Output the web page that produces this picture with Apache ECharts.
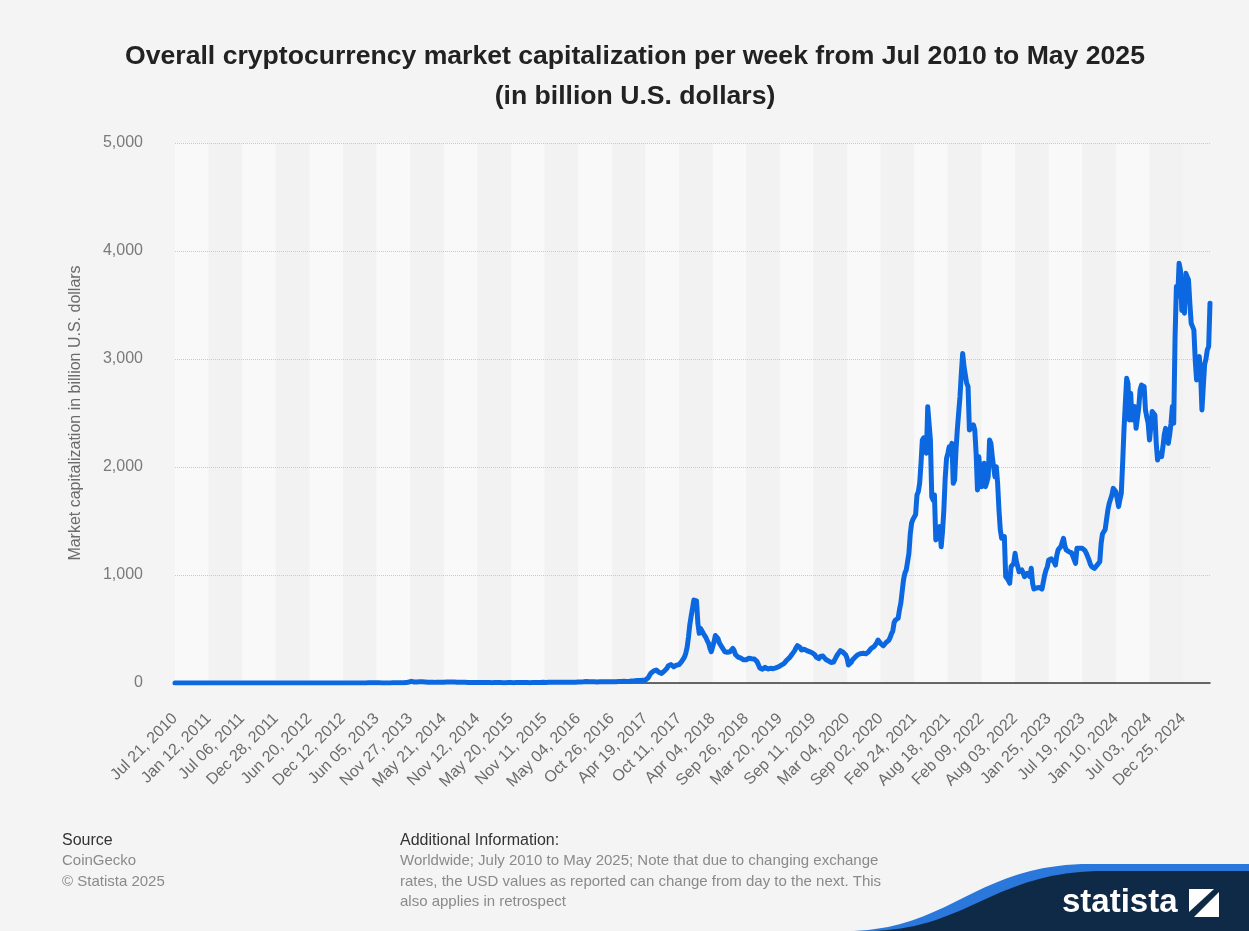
<!DOCTYPE html>
<html>
<head>
<meta charset="utf-8">
<title>Overall cryptocurrency market capitalization</title>
<script src="https://cdn.jsdelivr.net/npm/echarts@6/dist/echarts.min.js"></script>
<style>
  html, body { margin: 0; padding: 0; background: #f4f4f4; }
  #chart { width: 1249px; height: 931px; }
</style>
</head>
<body>
<div id="chart"></div>
<script>
// Labelled weeks on the time axis (every 25th weekly observation)
const tickLabels = [
  'Jul 21, 2010', 'Jan 12, 2011', 'Jul 06, 2011', 'Dec 28, 2011', 'Jun 20, 2012',
  'Dec 12, 2012', 'Jun 05, 2013', 'Nov 27, 2013', 'May 21, 2014', 'Nov 12, 2014',
  'May 20, 2015', 'Nov 11, 2015', 'May 04, 2016', 'Oct 26, 2016', 'Apr 19, 2017',
  'Oct 11, 2017', 'Apr 04, 2018', 'Sep 26, 2018', 'Mar 20, 2019', 'Sep 11, 2019',
  'Mar 04, 2020', 'Sep 02, 2020', 'Feb 24, 2021', 'Aug 18, 2021', 'Feb 09, 2022',
  'Aug 03, 2022', 'Jan 25, 2023', 'Jul 19, 2023', 'Jan 10, 2024', 'Jul 03, 2024',
  'Dec 25, 2024'
];

// Weekly market capitalization, billion U.S. dollars (one row per labelled half-year)
const marketCap = [
  // Jul 2010 – Jan 2011
  0.0003,0.0002,0.0002,0.0002,0.0002, 0.0002,0.0002,0.0002,0.0002,0.0003, 0.0003,0.0003,0.0003,0.0004,0.0005, 0.0008,0.0013,0.0010,0.0012,0.0010, 0.0010,0.0011,0.0012,0.0013,0.0015,
  // Jan 2011 – Jun 2011
  0.002,0.002,0.003,0.005,0.005, 0.005,0.004,0.005,0.005,0.004, 0.004,0.004,0.005,0.007,0.011, 0.022,0.028,0.043,0.050,0.060, 0.117,0.190,0.125,0.110,0.110,
  // Jul 2011 – Dec 2011
  0.100,0.095,0.090,0.090,0.085, 0.080,0.070,0.065,0.070,0.075, 0.060,0.055,0.045,0.035,0.025, 0.030,0.020,0.022,0.020,0.018, 0.020,0.021,0.021,0.025,0.030,
  // Dec 2011 – Jun 2012
  0.033,0.050,0.055,0.052,0.045, 0.045,0.042,0.038,0.040,0.042, 0.040,0.038,0.040,0.042,0.040, 0.040,0.041,0.042,0.042,0.043, 0.044,0.045,0.046,0.048,0.052,
  // Jun 2012 – Dec 2012
  0.060,0.063,0.066,0.072,0.080, 0.085,0.088,0.100,0.115,0.125, 0.130,0.105,0.100,0.105,0.115, 0.120,0.122,0.118,0.117,0.110, 0.108,0.112,0.120,0.125,0.130,
  // Dec 2012 – May 2013
  0.14,0.14,0.14,0.148,0.15, 0.16,0.18,0.21,0.23,0.25, 0.30,0.31,0.33,0.38,0.50, 0.65,0.95,1.00,1.50,2.50, 1.20,1.30,1.35,1.30,1.43,
  // Jun 2013 – Nov 2013
  1.40,1.25,1.20,1.05,0.95, 0.80,0.85,1.00,1.05,1.10, 1.15,1.20,1.25,1.30,1.40, 1.50,1.60,1.60,1.70,1.80, 2.30,2.60,3.50,5.00,9.00,
  // Nov 2013 – May 2014
  14.0,15.5,11.0,8.5,9.0, 10.0,11.0,11.5,11.0,10.5, 10.0,9.5,8.5,8.0,7.5, 7.8,7.6,7.2,6.5,5.8, 6.0,6.2,6.5,6.4,6.4,
  // May 2014 – Nov 2014
  7.5,8.5,9.0,8.8,8.6, 8.5,8.4,8.5,8.4,8.3, 8.0,7.8,7.0,6.8,6.8, 6.8,6.5,6.2,5.5,5.2, 5.5,5.0,5.0,5.0,4.8,
  // Nov 2014 – May 2015
  6.5,5.5,5.3,5.0,4.8, 4.6,4.5,4.2,3.0,3.6, 3.4,3.4,3.5,3.8,4.0, 4.1,3.9,3.6,3.5,3.4, 3.3,3.4,3.5,3.5,3.5,
  // May 2015 – Nov 2015
  3.5,3.4,3.3,3.4,3.5, 3.5,3.7,3.9,4.2,4.4, 4.3,4.1,4.0,3.8,3.4, 3.5,3.5,3.5,3.5,3.6, 3.7,3.9,4.2,4.6,6.0,
  // Nov 2015 – Apr 2016
  5.1,5.3,5.8,6.3,7.0, 7.1,7.0,7.1,6.9,6.4, 6.4,6.3,6.2,6.3,6.6, 7.0,7.3,7.5,7.4,7.4, 7.5,7.6,7.7,7.8,8.1,
  // May 2016 – Oct 2016
  8.6,8.8,9.3,10.5,11.5, 12.5,14.5,13.5,12.0,12.0, 12.2,11.8,11.0,10.4,10.3, 10.5,10.6,10.8,11.0,11.0, 11.1,11.3,11.5,11.8,12.0,
  // Oct 2016 – Apr 2017
  12.8,12.5,12.6,12.4,12.4, 13.0,13.5,14.0,15.5,17.0, 16.0,15.0,15.2,15.5,16.0, 17.5,18.5,20.0,22.0,24.0, 22.0,23.0,25.0,26.0,27.0,
  // Apr 2017 – Oct 2017
  28,35,48,70,90, 105,110,115,120,110, 100,93,89,95,110, 125,136,160,176,170, 160,150,151,165,175,
  // Oct 2017 – Mar 2018
  170,180,200,215,240, 275,330,425,540,620, 690,768,784,760,553, 460,505,490,460,475, 420,390,367,320,290,
  // Apr 2018 – Sep 2018
  300,380,440,444,410, 370,352,330,310,290, 280,285,275,290,305, 321,300,262,244,240, 232,230,229,215,198,
  // Sep 2018 – Mar 2019
  215,225,229,226,225, 229,222,210,198,170, 140,130,128,140,145, 135,130,133,136,128, 132,138,140,145,150,
  // Mar 2019 – Sep 2019
  160,165,170,180,195, 210,220,232,250,265, 280,300,325,345,362, 330,306,300,312,321, 300,295,290,285,280,
  // Sep 2019 – Feb 2020
  275,262,240,228,225, 245,259,250,235,220, 213,205,195,190,182, 195,220,244,265,280, 300,306,285,270,259,
  // Mar 2020 – Aug 2020
  230,167,160,190,213, 225,240,255,262,270, 272,268,275,272,270, 280,290,300,320,330, 336,350,370,398,380,
  // Sep 2020 – Feb 2021
  365,352,345,360,375, 383,395,420,455,480, 560,583,590,600,680, 740,850,955,1016,1046, 1060,1200,1380,1480,1515,
  // Feb 2021 – Aug 2021
  1530,1560,1741,1772,1850, 2034,2250,2270,2200,2127, 2559,2400,2250,1725,1694, 1741,1324,1340,1380,1448, 1262,1400,1602,1900,2080,
  // Aug 2021 – Feb 2022
  2127,2188,2157,2219,1849, 1880,2150,2343,2500,2651, 2867,3052,2929,2850,2775, 2744,2343,2343,2370,2389, 2343,2127,1787,2096,2111,
  // Feb 2022 – Jul 2022
  1818,1950,2034,1818,1860, 1910,2250,2219,2100,2000, 1910,2003,1849,1602,1417, 1340,1345,1355,985,970, 950,924,1078,1090,1108,
  // Aug 2022 – Jan 2023
  1201,1120,1078,1030,1016, 1047,1020,985,1000,1016, 1000,985,1062,924,870, 862,880,893,885,878, 870,862,1000,1046,1078,
  // Jan 2023 – Jul 2023
  1139,1145,1150,1154,1120, 1092,1180,1232,1245,1262, 1300,1340,1270,1232,1225, 1216,1210,1205,1201,1140, 1108,1247,1247,1247,1250,
  // Jul 2023 – Jan 2024
  1247,1240,1225,1201,1170, 1139,1100,1077,1070,1062, 1075,1092,1110,1123,1293, 1380,1401,1420,1432,1600, 1663,1679,1740,1802,1790,
  // Jan 2024 – Jun 2024
  1771,1700,1633,1700,1756, 2034,2343,2590,2821,2775, 2436,2682,2436,2520,2559, 2358,2374,2550,2713,2759, 2750,2744,2528,2460,2405,
  // Jul 2024 – Dec 2024
  2250,2374,2513,2500,2482, 2219,2065,2127,2110,2096, 2188,2300,2358,2343,2219, 2300,2405,2559,2405,3200, 3671,3578,3887,3825,3450,
  // Dec 2024 – May 2025
  3702,3424,3794,3760,3733, 3517,3331,3300,3270,2991, 2806,2991,3022,2867,2528, 2513,2950,3000,3084,3115, 3517
];

// Week-by-week category names, stepping seven days from each labelled week
const MONTHS = ['Jan','Feb','Mar','Apr','May','Jun','Jul','Aug','Sep','Oct','Nov','Dec'];
const DAY = 86400000;
function parseLabel(s) {
  const parts = s.replace(',', '').split(' ');
  return Date.UTC(+parts[2], MONTHS.indexOf(parts[0]), +parts[1]);
}
function formatWeek(t) {
  const d = new Date(t);
  return MONTHS[d.getUTCMonth()] + ' ' + String(d.getUTCDate()).padStart(2, '0') + ', ' + d.getUTCFullYear();
}
const weeks = [];
tickLabels.forEach(function (label) {
  const t0 = parseLabel(label);
  for (let k = 0; k < 25 && weeks.length < marketCap.length; k++) {
    weeks.push(formatWeek(t0 + k * 7 * DAY));
  }
});

// Outline of the brand corner: a cubic swoop from the bottom edge up to a flat top
function swoop(x0, x1, yTop, yBottom, c1, c2) {
  const pts = [];
  for (let i = 0; i <= 40; i++) {
    const t = i / 40, u = 1 - t;
    const x = u*u*u*x0 + 3*u*u*t*(x0 + c1) + 3*u*t*t*(x1 - c2) + t*t*t*x1;
    const y = u*u*u*yBottom + 3*u*u*t*yBottom + 3*u*t*t*yTop + t*t*t*yTop;
    pts.push([x, y]);
  }
  pts.push([1249, yTop], [1249, 931]);
  return pts;
}

const FONT = '"Liberation Sans", Arial, Helvetica, sans-serif';

const chart = echarts.init(document.getElementById('chart'), null, { renderer: 'canvas' });

chart.setOption({
  backgroundColor: '#f4f4f4',
  animation: false,
  textStyle: { fontFamily: FONT },
  grid: { left: 175, right: 39, top: 143, bottom: 248, containLabel: false },
  xAxis: [
    {
      // labelled week axis with alternating half-year bands
      type: 'category',
      data: weeks,
      boundaryGap: false,
      z: 0,
      axisLine: { show: false },
      axisTick: { show: false, interval: 24 },
      axisLabel: {
        interval: 24,
        rotate: 45,
        margin: 33,
        fontSize: 16,
        color: '#6b6b6b',
        fontFamily: FONT
      },
      splitLine: { show: false },
      splitArea: {
        show: true,
        interval: 24,
        areaStyle: { color: ['#f9f9f9', '#f2f2f2'] }
      }
    },
    {
      // solid baseline drawn above the dotted value grid
      type: 'category',
      data: weeks,
      boundaryGap: false,
      position: 'bottom',
      z: 3,
      axisLine: { show: true, onZero: false, lineStyle: { color: '#3a3a3a', width: 1.5 } },
      axisTick: { show: false },
      axisLabel: { show: false },
      splitLine: { show: false },
      splitArea: { show: false }
    }
  ],
  yAxis: {
    type: 'value',
    min: 0,
    max: 5000,
    interval: 1000,
    z: 1,
    name: 'Market capitalization in billion U.S. dollars',
    nameLocation: 'middle',
    nameGap: 91,
    nameTextStyle: { fontSize: 16, color: '#6b6b6b', fontFamily: FONT },
    axisLine: { show: false },
    axisTick: { show: false },
    axisLabel: {
      margin: 32,
      fontSize: 16,
      color: '#7a7a7a',
      fontFamily: FONT,
      formatter: function (v) { return v.toLocaleString('en-US'); }
    },
    splitLine: { show: true, lineStyle: { color: '#c9c9c9', type: 'dotted', width: 1 } }
  },
  series: [{
    type: 'line',
    xAxisIndex: 0,
    data: marketCap,
    showSymbol: false,
    symbol: 'none',
    smooth: false,
    sampling: false,
    lineStyle: { color: '#0b68e0', width: 5, join: 'round', cap: 'round' },
    z: 5
  }],
  graphic: [
    {
      type: 'text', z: 10,
      style: {
        x: 635, y: 57, text: 'Overall cryptocurrency market capitalization per week from Jul 2010 to May 2025',
        font: 'bold 26.6px ' + FONT, fill: '#222222', textAlign: 'center', textVerticalAlign: 'middle'
      }
    },
    {
      type: 'text', z: 10,
      style: {
        x: 635, y: 97, text: '(in billion U.S. dollars)',
        font: 'bold 26.6px ' + FONT, fill: '#222222', textAlign: 'center', textVerticalAlign: 'middle'
      }
    },
    // Footer: source
    { type: 'text', z: 10, style: { x: 62, y: 841, text: 'Source', font: '16px ' + FONT, fill: '#333333', textVerticalAlign: 'middle' } },
    { type: 'text', z: 10, style: { x: 62, y: 861, text: 'CoinGecko', font: '15px ' + FONT, fill: '#8a8a8a', textVerticalAlign: 'middle' } },
    { type: 'text', z: 10, style: { x: 62, y: 882, text: '© Statista 2025', font: '15px ' + FONT, fill: '#8a8a8a', textVerticalAlign: 'middle' } },
    // Footer: additional information
    { type: 'text', z: 10, style: { x: 400, y: 841, text: 'Additional Information:', font: '16px ' + FONT, fill: '#333333', textVerticalAlign: 'middle' } },
    { type: 'text', z: 10, style: { x: 400, y: 861, text: 'Worldwide; July 2010 to May 2025; Note that due to changing exchange', font: '15px ' + FONT, fill: '#8a8a8a', textVerticalAlign: 'middle' } },
    { type: 'text', z: 10, style: { x: 400, y: 882, text: 'rates, the USD values as reported can change from day to the next. This', font: '15px ' + FONT, fill: '#8a8a8a', textVerticalAlign: 'middle' } },
    { type: 'text', z: 10, style: { x: 400, y: 902, text: 'also applies in retrospect', font: '15px ' + FONT, fill: '#8a8a8a', textVerticalAlign: 'middle' } },
    // Brand corner
    { type: 'polygon', z: 10, shape: { points: swoop(846, 1090, 864, 931, 104, 115) }, style: { fill: '#2a78dc' } },
    { type: 'polygon', z: 11, shape: { points: swoop(866, 1104, 871, 931, 102, 112) }, style: { fill: '#0f2a46' } },
    {
      type: 'text', z: 12,
      style: { x: 1062, y: 903, text: 'statista', font: 'bold 33px ' + FONT, fill: '#ffffff', textVerticalAlign: 'middle' }
    },
    { type: 'rect', z: 12, shape: { x: 1189, y: 889, width: 30, height: 28 }, style: { fill: '#ffffff' } },
    { type: 'polygon', z: 13, shape: { points: [[1189, 917], [1194, 917], [1219, 892], [1219, 889], [1214, 889], [1189, 912]] }, style: { fill: '#0f2a46' } }
  ]
});
</script>
</body>
</html>
